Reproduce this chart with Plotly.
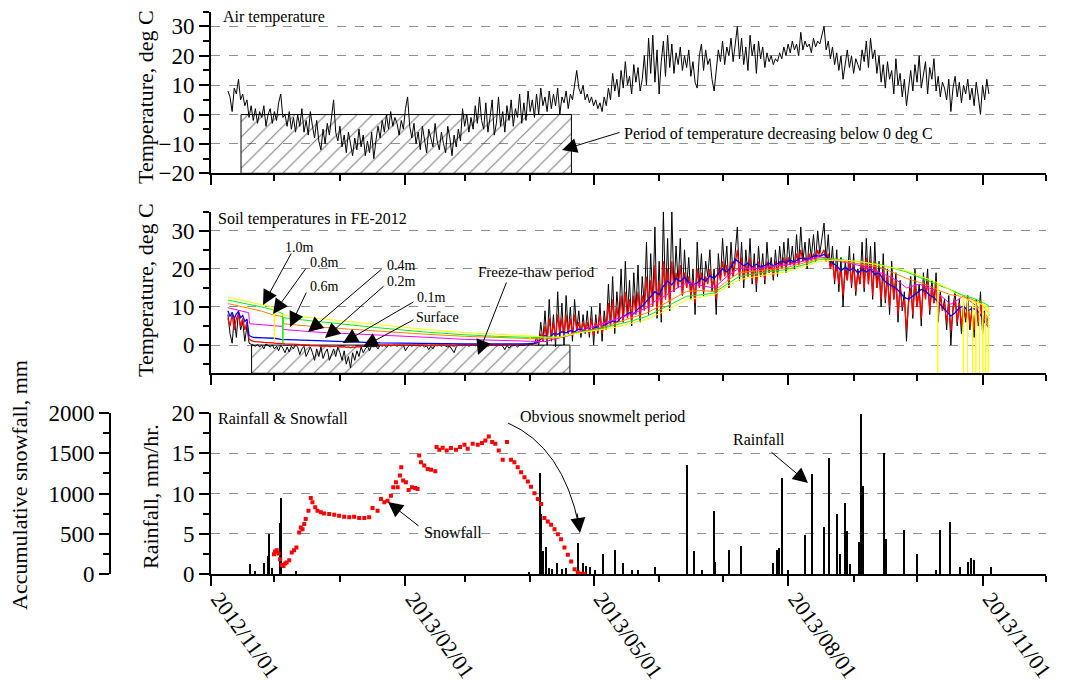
import numpy as np
import pandas as pd
import plotly.graph_objects as go

FONT = "Liberation Serif"
W, H = 1065, 684
T0 = pd.Timestamp("2012-11-01")


def d(days):
    return T0 + pd.to_timedelta(np.asarray(days, dtype=float), unit="D")


# ---------------- DATA (day offsets from 2012-11-01) ----------------
# Air temperature, daily samples from day 8 to day 368
air_start = 8
air_temp = [
    8, 6, 1, 9, 7, 12, 5, 7, 3, 5,
    -1, 3, -2, 2, -3, 1, -1, 3, -4, 0,
    2, -3, 1, -2, 4, 7, -1, 0, -4, 1,
    -5, -1, -6, 0, -4, 2, -6, -2, -7, 1,
    -4, -8, -2, -9, -12, -5, -10, -3, -7, -1,
    5, -6, -9, -4, -11, -7, -13, -6, -10, -14,
    -8, -12, -5, -11, -7, -14, -9, -13, -6, -15,
    -9, -4, -8, -2, -6, 0, -5, 1, -4, -1,
    -3, -7, -2, -5, 2, 6, -4, -8, -3, -10,
    -6, -12, -4, -9, -13, -5, -8, -11, -3, -9,
    -12, -6, -10, -13, -4, -8, -14, -7, -11, -5,
    -9, 2, -4, 0, -6, -1, -5, 3, -3, 6,
    -2, -5, 4, -6, -1, 5, -7, -3, 6, -4,
    1, -6, 3, -2, 5, -4, 2, -1, 7, -3,
    4, -2, 8, 1, 5, -1, 7, 0, 9, 3,
    6, 1, 8, 2, 7, 3, 9, 0, 6, 4,
    8, 2, 7, 5, 10, 15, 9, 7, 10, 5,
    7, 4, 6, 3, 5, 2, 4, 1, 6, 3,
    9, 5, 14, 8, 12, 6, 15, 9, 18, 10,
    13, 7, 17, 11, 16, 8, 12, 20, 10, 26,
    14, 27, 11, 22, 7, 18, 25, 13, 27, 16,
    24, 14, 21, 17, 23, 15, 20, 16, 22, 13,
    18, 11, 9, 20, 24, 15, 22, 17, 19, 12,
    8, 16, 22, 18, 25, 17, 23, 20, 26, 18,
    24, 30, 19, 26, 17, 23, 15, 27, 20, 24,
    14, 25, 19, 23, 16, 21, 18, 20, 17, 19,
    18, 21, 19, 23, 20, 24, 21, 25, 22, 24,
    20, 28, 22, 25, 23, 24, 21, 26, 23, 25,
    24, 27, 30, 22, 25, 19, 23, 17, 21, 15,
    20, 12, 18, 22, 16, 20, 14, 19, 17, 15,
    22, 18, 25, 16, 26, 19, 22, 14, 20, 11,
    17, 9, 18, 12, 15, 7, 19, 10, 14, 6,
    12, 3, 9, 15, 8, 17, 11, 20, 9, 14,
    18, 7, 16, 12, 19, 8, 13, 6, 11, 9,
    5, 12, 1, 9, 13, 6, 11, 4, 10, 7,
    12, 5, 9, 3, 11, 6, 0, 10, 5, 12,
    7,
]

# Soil surface temperature (daily, day 8..368)
soil_start = 8
soil_surface = [
    8, 3, 0.5, 7, 2, 9, 4, 6, 1, 5,
    0.5, 0.2, 0, -0.3, 0.2, -0.5, 0, -1, 0.3, -0.2,
    -0.5, 0, -1, -0.3, -1.5, 0, -0.8, -2, -0.5, -1.8,
    -0.3, -1, 0, -0.5, -2.5, -1, -0.3, -3, -1.5, -0.5,
    -2, -4, -1, -3, -0.5, -3.5, -2, -1, -4, -2.5,
    -1, -3, -0.5, -2, -4, -1.5, -5, -3, -6, -2,
    -4, -1.5, -3, -0.5, -2, -1, -0.3, -1.5, 0, -0.5,
    -0.2, -1, 0, -0.3, 0, -0.5, 0, -0.2, 0, 0,
    -0.3, 0, -0.2, 0, -1.5, -0.5, 0, -0.3, 0, -0.2,
    0, -0.3, 0, -0.5, -0.2, -1.2, -0.3, -1, 0, -0.2,
    0, -0.3, 0, -0.2, -0.5, -0.3, -1, -2, -0.5, 0,
    0, -0.2, 0, 0, -0.3, 0, 0, -0.2, 0, 0,
    -0.2, 0, 0, -0.3, 0, 0, 0, -0.2, 0, 0,
    -0.3, -1.2, 0, -0.8, -0.2, 0, 0, -0.5, 0, 0,
    0, 0.2, 0, 0.3, 0.1, 0.5, 2, 0, 6, 1,
    9, 0, 12, 1, 8, -0.5, 14, 2, 11, 0,
    13, 3, 10, 1, 12, 4, 9, 2, 8, 3,
    9, 2, 10, 0, 8, 3, 11, 1, 9, 4,
    16, 5, 18, 3, 14, 7, 20, 6, 22, 8,
    17, 5, 19, 9, 21, 6, 18, 10, 27, 8,
    24, 11, 31, 7, 22, 6, 35, 12, 28, 9,
    35, 14, 26, 16, 28, 13, 25, 15, 23, 12,
    20, 8, 27, 16, 24, 13, 22, 18, 25, 14,
    20, 8, 24, 17, 28, 19, 26, 15, 27, 18,
    25, 31, 17, 27, 15, 25, 18, 28, 16, 24,
    14, 26, 18, 24, 16, 27, 19, 23, 17, 25,
    18, 26, 20, 27, 19, 28, 21, 26, 20, 29,
    21, 31, 22, 27, 20, 28, 23, 29, 22, 30,
    24, 28, 32, 22, 29, 20, 26, 16, 25, 14,
    23, 10, 22, 17, 26, 15, 24, 13, 20, 16,
    27, 14, 28, 16, 26, 12, 27, 15, 22, 10,
    24, 11, 20, 8, 22, 12, 19, 6, 17, 9,
    14, 1, 12, 18, 7, 20, 10, 16, 5, 19,
    13, 20, 8, 17, 11, 19, 6, 14, 9, 12,
    4, 13, 0, 10, 14, 5, 12, 3, 11, 6,
    13, 4, 10, 2, 12, 5, 14, 3, 9, 6,
    8,
]

# Soil temperature at 0.1 m (daily, day 8..368)
soil_01 = [
    7, 5, 8, 4, 7, 8, 5, 7, 4, 6,
    1.5, 1.2, 1.0, 0.9, 0.9, 0.8, 0.8, 0.7, 0.7, 0.6,
    0.6, 0.6, 0.5, 0.5, 0.4, 0.4, 0.4, 0.3, 0.3, 0.3,
    0.3, 0.2, 0.2, 0.2, 0.1, 0.1, 0.1, 0, 0, -0.1,
    -0.1, -0.2, -0.1, -0.2, -0.3, -0.2, -0.3, -0.2, -0.4, -0.3,
    -0.2, -0.3, -0.2, -0.4, -0.5, -0.4, -0.6, -0.5, -0.7, -0.5,
    -0.6, -0.4, -0.5, -0.3, -0.4, -0.3, -0.2, -0.3, -0.2, -0.2,
    -0.1, -0.1, -0.1, 0, -0.1, 0, 0, -0.1, 0, 0,
    0, 0, 0, 0, -0.1, 0, 0, 0, 0, 0,
    0, 0, 0, 0, 0, -0.2, 0, -0.1, 0, 0,
    0, 0, 0, 0, 0, 0, -0.1, -0.3, 0, 0,
    0, 0, 0, 0, 0, 0, 0, 0, 0, 0,
    0, 0, 0, 0, 0, 0, 0, 0, 0, 0.1,
    0.1, 0, 0.1, 0, 0.1, 0.1, 0.1, 0.1, 0.1, 0.2,
    0.2, 0.2, 0.3, 0.3, 0.3, 0.4, 1, 0.5, 3, 1,
    5, 1, 7, 2, 6, 1.5, 8, 3, 7, 2,
    8, 3, 7, 2.5, 8, 4, 6, 3, 6, 4,
    6, 3, 7, 2.5, 6, 3.5, 8, 3, 7, 4,
    11, 5, 12, 4.5, 10, 6, 13, 6, 14, 7,
    12, 6, 13, 8, 14, 7, 13, 9, 18, 9,
    17, 10, 21, 9, 17, 8, 22, 12, 20, 10,
    22, 14, 19, 15, 21, 13, 19, 15, 18, 13,
    17, 11, 20, 15, 19, 14, 18, 16, 20, 15,
    17, 12, 20, 17, 22, 18, 21, 16, 22, 18,
    22, 25, 18, 23, 17, 21, 18, 23, 17, 21,
    16, 22, 18, 21, 17, 22, 19, 21, 18, 22,
    19, 22, 20, 23, 20, 23, 21, 22, 21, 24,
    21, 25, 22, 23, 21, 24, 22, 24, 22, 25,
    23, 24, 25, 22, 24, 20, 22, 17, 21, 16,
    20, 13, 20, 17, 22, 16, 21, 14, 19, 16,
    22, 15, 23, 16, 22, 13, 22, 15, 19, 12,
    20, 12, 18, 10, 19, 12, 17, 8, 15, 10,
    12, 4, 11, 15, 8, 16, 10, 14, 7, 16,
    12, 17, 9, 15, 11, 16, 8, 13, 9, 11,
    6, 11, 4, 9, 12, 6, 11, 5, 10, 7,
    11, 5, 9, 4, 10, 6, 11, 5, 8, 6,
    5,
]

# Soil temperature at 0.2 m
soil_02_days = [8, 9, 10, 11, 12, 13, 14, 15, 16, 17, 18, 20, 25, 30, 33, 40, 50, 60, 70,
                80, 90, 100, 110, 120, 130, 140, 150, 154, 156, 158, 160, 162, 164, 166,
                168, 170,
                172, 174, 176, 178, 180, 182, 184, 186, 188, 190, 192, 194, 196, 198, 200,
                202, 204, 206, 208, 210, 212, 214, 216, 218, 220, 222, 224, 226, 228, 230,
                232, 234, 236, 238, 240, 242, 244, 246, 248, 250, 252, 254, 256, 258, 260,
                262, 264, 266, 268, 270, 272, 274, 276, 278, 280, 282, 284, 286, 288, 290,
                292, 294, 296, 298, 300, 302, 304, 306, 308, 310, 312, 314, 316, 318, 320,
                322, 324, 326, 328, 330, 332, 334, 336, 338, 340, 342, 344, 346, 348, 350,
                352, 354, 356, 358, 360, 362, 364, 366, 368]
soil_02 = [9.0, 7.5, 8.6, 7.0, 8.2, 8.8, 7.2, 7.8, 6.2, 6.8, 2.5, 2.0, 1.9, 1.8, 1.5, 1.4,
           1.2, 1.0, 0.8, 0.6, 0.5, 0.4, 0.35, 0.3, 0.3, 0.3, 0.35, 0.5, 1.5, 2.5, 2.0,
           3.0, 2.8, 3.5, 3.2, 3.8,
           3.5, 4.2, 3.8, 4.5, 4.0, 4.8, 4.3, 5.2, 5.8, 6.3, 6.0, 7.2, 7.8, 8.5, 8.2,
           9.5, 10.2, 11.5, 12.5, 14.0, 13.2, 15.5, 16.8, 15.8, 17.5, 16.7, 17.8, 16.5,
           15.8, 16.3, 17.5, 16.8, 18.2, 17.5, 18.8, 20.0, 19.2, 20.5, 22.5, 21.6, 20.8,
           21.5, 20.5, 21.2, 20.4, 20.9, 21.5, 20.8, 21.4, 22.0, 21.6, 22.3, 21.8, 22.6,
           22.9, 22.4, 23.1, 23.5, 23.3, 23.8, 22.8, 21.5, 20.8, 19.5, 20.4, 19.6, 20.2,
           18.9, 19.8, 19.2, 20.0, 18.5, 19.0, 17.2, 16.2, 15.5, 15.0, 13.8, 12.5, 12.0,
           12.8, 13.8, 14.6, 14.2, 13.0, 12.5, 11.2, 10.0, 8.8, 7.6, 8.5, 9.8, 10.2, 9.0,
           9.6, 9.4, 8.0, 6.0, 4.5]

# Soil temperature at 0.4 m
soil_04_days = [8, 10, 12, 14, 16, 17.8, 18.3, 24, 29, 33.8, 34.2, 40, 50, 65, 80, 100,
                120, 135, 150, 158, 162, 166, 170, 174, 182, 190, 198, 206, 210, 215, 220,
                225, 232, 238, 244, 250, 255, 260, 266, 272, 280, 288, 294, 301, 310, 320,
                325, 329, 335, 342, 346, 350, 356, 362, 365, 368]
soil_04 = [9.8, 9.5, 9.2, 9.0, 8.7, 8.5, 5.6, 5.3, 5.0, 4.9, 4.1, 3.8, 3.4, 3.0, 2.7, 2.1,
           1.5, 1.2, 1.05, 0.9, 1.5, 2.0, 2.6, 3.6, 5.0, 6.5, 8.0, 9.7, 11.5, 13.0, 14.8,
           16.3, 15.5, 15.0, 18.0, 20.3, 20.0, 20.2, 20.8, 21.0, 22.0, 23.2, 22.4, 21.5,
           20.5, 18.2, 16.8, 15.0, 16.0, 14.5, 12.5, 10.7, 12.9, 10.3, 9.0, 7.0]

# Soil temperature at 0.6 m
soil_06_days = [8, 12, 18, 24, 29, 33.8, 34.2, 40, 50, 65, 80, 100, 120, 135, 150, 158,
                165, 174, 182, 190, 198, 206, 215, 225, 232, 238, 244, 250, 260, 272, 280,
                288, 295, 301, 308, 316, 322, 329, 335, 340, 345, 350, 355, 360, 364, 368]
soil_06 = [10.9, 10.4, 9.8, 8.9, 8.0, 7.5, 5.6, 5.3, 4.8, 4.2, 3.6, 2.9, 2.3, 2.0, 1.7,
           1.6, 2.0, 3.4, 4.3, 5.5, 7.0, 8.4, 11.0, 14.1, 14.3, 14.1, 16.8, 19.0, 19.6,
           20.3, 21.5, 22.9, 22.5, 21.8, 21.2, 20.5, 19.2, 17.5, 16.5, 15.5, 14.2, 13.2,
           12.8, 12.0, 11.0, 8.5]

# Soil temperature at 0.8 m
soil_08_days = [8, 12, 18, 24, 29, 33.8, 34, 34.2, 40, 50, 65, 80, 100, 120, 135, 150,
                158, 165, 174, 182, 190, 198, 206, 215, 225, 232, 238, 244, 250, 260, 272,
                280, 288, 295, 301, 308, 316, 322, 329, 335, 340, 345, 350, 355, 360, 364,
                368]
soil_08 = [11.8, 11.4, 10.8, 10.0, 9.3, 8.3, 0.5, 7.2, 6.8, 6.2, 5.3, 4.5, 3.5, 2.7, 2.3,
           2.0, 1.9, 2.1, 3.3, 4.0, 5.0, 6.2, 7.5, 10.0, 12.8, 13.2, 13.7, 16.0, 18.0,
           19.0, 19.8, 21.0, 22.5, 22.6, 22.3, 21.8, 21.2, 20.3, 19.2, 17.8, 16.8, 15.6,
           14.5, 13.2, 12.4, 11.5, 10.3]

# Soil temperature at 1.0 m (includes sensor drop-outs)
soil_10_days = [8, 12, 18, 24, 29.8, 30, 30.2, 33, 40, 50, 65, 80, 100, 120, 135, 150.8,
                151, 151.2, 158, 165, 174, 182, 190, 198, 206, 215, 225, 232, 238, 244,
                250, 260, 272, 280, 288, 295, 301, 308, 316, 322, 329, 335, 340, 343.6,
                343.8, 344.0, 348, 352, 355.8, 355.9, 356.0, 357.8, 357.9, 358.0, 360.2,
                360.3, 360.4, 361.7, 361.8, 361.9, 363.4, 363.5, 363.6, 365.0, 365.1,
                365.2, 366.4, 366.5, 366.6, 367.6, 367.7, 367.8, 368]
soil_10 = [12.6, 12.1, 11.4, 10.7, 9.9, 1.0, 9.7, 8.0, 7.6, 7.0, 6.1, 5.3, 4.2, 3.3, 2.8,
           2.4, 1.0, 2.4, 2.1, 2.1, 3.2, 3.8, 4.5, 5.6, 6.7, 9.0, 11.9, 12.6, 13.2, 15.3,
           17.2, 18.2, 19.2, 20.5, 22.0, 22.3, 22.2, 21.8, 21.1, 20.4, 19.5, 18.3, 17.3,
           16.4, -9, 16.3, 15.0, 13.6, 12.4, -9, 12.3, 12.0, -9, 11.9, 11.6, -9, 11.5, 11.3,
           -9, 11.2, 11.0, -9, 10.9, 10.7, -9, 10.6, 10.4, -9, 10.2, 10.0, -9, 9.8, 9.6]

# Freeze periods (day offsets)
air_freeze = [14.2, 170.5]
soil_freeze = [19.2, 169.8]

# Rainfall, mm/hr
rain_days = [18.5, 21, 25.4, 27, 27.7, 29, 32.7, 33.2, 40.5, 150.6, 155.8, 156.3, 157,
             158.8, 160, 161.5, 163.7, 166, 168, 173.8, 176, 177.5, 179.5, 182, 185.5, 191,
             195, 199.5, 202, 210, 225.4, 228.5, 232.6, 238, 238.6, 245, 251, 266, 268, 269,
             270, 273, 281, 284.3, 290, 292.4, 296.3, 297.8, 300, 301, 302.3, 306.7, 307.8,
             308.4, 318.6, 319.4, 328, 334, 343, 344.8, 349.8, 354.6, 358, 359.5, 361, 369]
rain = [1.3, 0.4, 1.4, 2.3, 5.0, 0.8, 6.4, 9.5, 0.4, 0.3, 12.5, 7.5, 2.9, 3.4, 0.8, 0.6,
        1.4, 0.6, 0.8, 3.9, 1.4, 1.0, 0.9, 0.5, 2.5, 3.0, 1.4, 0.5, 0.5, 0.9, 13.5, 2.9,
        0.5, 7.9, 1.5, 3.0, 3.5, 1.4, 3.0, 3.2, 12.0, 0.5, 4.9, 12.4, 5.9, 14.4, 7.5, 2.5,
        8.9, 5.4, 1.3, 4.0, 19.9, 11.0, 15.0, 4.4, 5.5, 2.5, 0.5, 5.5, 6.5, 0.9, 1.5, 2.0,
        1.8, 0.9]

# Accumulative snowfall, mm
snow_days = [29.8, 30.3, 31.1, 31.9, 32.7, 33.5, 34.3, 35.1, 35.8, 37, 38.2, 39.3, 40.4,
             41.7, 42.5, 43.3, 44.1, 44.8, 46.1, 47.2, 48, 49.3, 50.4, 52, 53.5, 55.9,
             58.3, 60.6, 63, 65.4, 67.7, 70.1, 72.5, 74.8, 76.4, 78.8, 80.4, 82, 83.5,
             85.1, 86.2, 87.5, 88.3, 89.4, 90, 90.9, 92.2, 93.5, 95.1, 96.6, 97.7, 98.5,
             99.3, 100.9, 102.5, 104.1, 106.1, 106.7, 108, 109.6, 111.5, 113.5, 115.9,
             117.8, 119.9, 121.4, 123.8, 126.2, 128.2, 129.8, 131.4, 133, 134.5, 136.1,
             138, 140, 141.9, 143.5, 145.1, 146.7, 148.3, 149.9, 151.4, 153, 154.6, 156.2,
             157.7, 159.3, 160.9, 162.5, 164.1, 165.6, 167.2, 168.8, 170.4, 172, 173.5,
             175.1, 176.7]
snow = [249, 282, 299, 257, 187, 116, 104, 133, 145, 174, 270, 299, 332, 519, 581, 560,
        623, 685, 789, 946, 892, 830, 789, 768, 755, 747, 739, 726, 714, 706, 714, 697,
        697, 706, 822, 789, 934, 892, 913, 975, 1079, 1141, 1079, 1224, 1328, 1162, 1141,
        1046, 1079, 1071, 1058, 1473, 1390, 1349, 1307, 1295, 1278, 1577, 1544, 1569,
        1536, 1565, 1544, 1577, 1606, 1556, 1619, 1606, 1627, 1660, 1710, 1639, 1619,
        1536, 1419, 1639, 1419, 1390, 1328, 1266, 1204, 1150, 1087, 1004, 934, 872, 697,
        656, 614, 560, 498, 436, 332, 241, 158, 62, 21, 8, 8]

X_RANGE = ["2012-11-01", "2013-12-01"]

# ---------------- FIGURE ----------------
air_days = np.arange(air_start, air_start + len(air_temp))
soil_days = np.arange(soil_start, soil_start + len(soil_surface))

fig = go.Figure()

# Panel 1 (air temperature)
fig.add_trace(go.Scatter(
    x=d([air_freeze[0], air_freeze[0], air_freeze[1], air_freeze[1], air_freeze[0]]),
    y=[-20, 0, 0, -20, -20], mode="lines", fill="toself", fillcolor="rgba(0,0,0,0)",
    fillpattern=dict(shape="/", fgcolor="black", size=11, solidity=0.1),
    line=dict(color="black", width=1), xaxis="x2", yaxis="y", hoverinfo="skip"))
fig.add_trace(go.Scatter(x=d(air_days), y=air_temp, mode="lines",
                         line=dict(color="black", width=1), xaxis="x2", yaxis="y"))

# Panel 2 (soil temperatures)
P2_MIN = -7.4
fig.add_trace(go.Scatter(
    x=d([soil_freeze[0], soil_freeze[0], soil_freeze[1], soil_freeze[1], soil_freeze[0]]),
    y=[P2_MIN, 0, 0, P2_MIN, P2_MIN], mode="lines", fill="toself", fillcolor="rgba(0,0,0,0)",
    fillpattern=dict(shape="/", fgcolor="black", size=11, solidity=0.1),
    line=dict(color="black", width=1), xaxis="x3", yaxis="y2", hoverinfo="skip"))
fig.add_trace(go.Scatter(x=d(soil_days), y=soil_surface, mode="lines",
                         line=dict(color="black", width=1), xaxis="x3", yaxis="y2"))
fig.add_trace(go.Scatter(x=d(soil_days), y=soil_01, mode="lines",
                         line=dict(color="#ff0000", width=1.3), xaxis="x3", yaxis="y2"))
fig.add_trace(go.Scatter(x=d(soil_02_days), y=soil_02, mode="lines",
                         line=dict(color="#0000ff", width=1.3), xaxis="x3", yaxis="y2"))
fig.add_trace(go.Scatter(x=d(soil_04_days), y=soil_04, mode="lines",
                         line=dict(color="#ff00ff", width=1), xaxis="x3", yaxis="y2"))
fig.add_trace(go.Scatter(x=d(soil_06_days), y=soil_06, mode="lines",
                         line=dict(color="#ff8000", width=1), xaxis="x3", yaxis="y2"))
fig.add_trace(go.Scatter(x=d(soil_08_days), y=soil_08, mode="lines",
                         line=dict(color="#00ff00", width=1), xaxis="x3", yaxis="y2"))
fig.add_trace(go.Scatter(x=d(soil_10_days), y=soil_10, mode="lines",
                         line=dict(color="#ffff00", width=1), xaxis="x3", yaxis="y2"))

# Panel 3 (rainfall & snowfall)
fig.add_trace(go.Bar(x=d(rain_days), y=rain, width=0.7 * 86400000,
                     marker=dict(color="black", line=dict(width=0)), xaxis="x", yaxis="y3"))
fig.add_trace(go.Scatter(x=d(snow_days), y=snow, mode="markers",
                         marker=dict(color="#ff0000", size=4, symbol="square"),
                         xaxis="x", yaxis="y4"))

# ---------------- LAYOUT ----------------
def fy(y):
    return 1 - y / H


XDOM = [211 / W, 1046 / W]
tickfont = dict(family=FONT, size=23, color="black")
line_common = dict(showline=True, linecolor="black", linewidth=2, ticks="outside",
                   ticklen=10, tickwidth=2, tickcolor="black", zeroline=False,
                   automargin=False, tickfont=tickfont)
x_common = dict(line_common, type="date", range=X_RANGE, dtick="M3", tick0="2012-11-01",
                tickformat="%Y/%m/%d", showgrid=False, domain=XDOM,
                minor=dict(dtick="M1", tick0="2012-11-01", ticks="outside", ticklen=6,
                           tickwidth=2, tickcolor="black"))
grid = dict(showgrid=True, gridcolor="#909090", griddash="dash", gridwidth=1)

fig.update_layout(
    width=W, height=H, margin=dict(l=0, r=0, t=0, b=0),
    paper_bgcolor="white", plot_bgcolor="rgba(0,0,0,0)", showlegend=False,
    font=dict(family=FONT, color="black"),
    bargap=0,
    xaxis=dict(x_common, anchor="y3", tickangle=54, ticklabelstandoff=-9,
               ticklabelshift=8, tickfont=dict(family=FONT, size=22, color="black")),
    xaxis2=dict(x_common, anchor="y", matches="x", showticklabels=False),
    xaxis3=dict(x_common, anchor="y2", matches="x", showticklabels=False),
    yaxis=dict(line_common, **grid, domain=[fy(173.3), fy(11.7)], range=[-20, 35],
               dtick=10, tick0=0, anchor="x2",
               minor=dict(dtick=5, ticks="outside", ticklen=6, tickwidth=2,
                          tickcolor="black")),
    yaxis2=dict(line_common, **grid, domain=[fy(373.3), fy(211.7)], range=[P2_MIN, 35],
                dtick=10, tick0=0, anchor="x3",
                minor=dict(dtick=5, ticks="outside", ticklen=6, tickwidth=2,
                           tickcolor="black")),
    yaxis3=dict(line_common, **grid, domain=[fy(574.3), fy(413)], range=[0, 20],
                dtick=5, tick0=0, anchor="x",
                minor=dict(dtick=2.5, ticks="outside", ticklen=6, tickwidth=2,
                           tickcolor="black")),
    yaxis4=dict(line_common, showgrid=False, overlaying="y3", anchor="free",
                position=110 / W, side="left", range=[0, 2000], dtick=500, tick0=0,
                minor=dict(dtick=250, ticks="outside", ticklen=6, tickwidth=2,
                           tickcolor="black")),
)

annotations = []


def text(s, x, y, size, anchor="left", angle=0):
    annotations.append(dict(text=s, x=x / W, y=fy(y), xref="paper", yref="paper",
                            xanchor=anchor, yanchor="middle", showarrow=False,
                            textangle=angle,
                            font=dict(family=FONT, size=size, color="black")))


def arrow(tip, tail, size=3):
    annotations.append(dict(text="", x=tip[0] / W, y=fy(tip[1]), xref="paper", yref="paper",
                            ax=tail[0] - tip[0], ay=tail[1] - tip[1], axref="pixel",
                            ayref="pixel", showarrow=True, arrowhead=2, arrowsize=size,
                            arrowwidth=1, arrowcolor="black"))


# axis titles
text("Temperature, deg C", 145, 97, 22, anchor="center", angle=-90)
text("Temperature, deg C", 145, 290, 22, anchor="center", angle=-90)
text("Rainfall, mm/hr.", 150, 497, 22, anchor="center", angle=-90)
text("Accumulative snowfall, mm", 20, 485, 22, anchor="center", angle=-90)

# panel 1
text("Air temperature", 221, 17, 16)
text("Period of temperature decreasing below 0 deg C", 622, 134, 16)
arrow((562, 150), (621, 132))

# panel 2
text("Soil temperatures in FE-2012", 216, 219, 16)
text("1.0m", 299, 247, 14, anchor="center")
text("0.8m", 324, 262, 14, anchor="center")
text("0.6m", 324, 286, 14, anchor="center")
text("0.4m", 401, 265, 14, anchor="center")
text("0.2m", 401, 282, 14, anchor="center")
text("0.1m", 431, 298, 14, anchor="center")
text("Surface", 437, 317, 14, anchor="center")
text("Freeze-thaw period", 476, 272, 15)
arrow((263, 305), (292, 252))
arrow((273, 314), (307, 267))
arrow((290, 327), (307, 291))
arrow((308, 332), (383, 268))
arrow((325, 338), (385, 285))
arrow((343, 343), (415, 301))
arrow((363, 347), (415, 319))
arrow((478, 355), (507, 281))

# panel 3
text("Rainfall & Snowfall", 216, 418, 16)
text("Obvious snowmelt period", 518, 417, 16)
text("Snowfall", 422, 532, 16)
text("Rainfall", 731, 439, 16)
arrow((388, 502), (420, 527))
arrow((808, 483), (770, 451))
arrow((580, 533), (577, 512))

fig.update_layout(annotations=annotations)

# curved arrow line for snowmelt period (paper coordinates)
p0 = (508 / W, fy(423))
c = (563 / W, fy(447))
p2 = (579 / W, fy(526))
fig.add_shape(type="path", xref="paper", yref="paper",
              path=f"M {p0[0]},{p0[1]} Q {c[0]},{c[1]} {p2[0]},{p2[1]}",
              line=dict(color="black", width=1))

fig.write_html("out.html")
